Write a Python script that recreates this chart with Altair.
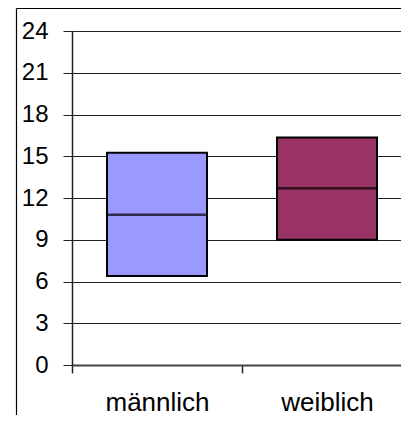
import altair as alt
import pandas as pd

# Data
groups = ["männlich", "weiblich"]
q1 = [6.4, 9.0]
median = [10.8, 12.7]
q3 = [15.25, 16.35]
colors = ["#9999FF", "#993366"]
y_ticks = [0, 3, 6, 9, 12, 15, 18, 21, 24]

df = pd.DataFrame({"g": groups, "q1": q1, "med": median, "q3": q3})

FONT = "Liberation Sans"

x_enc = alt.X(
    "g:N",
    sort=groups,
    title=None,
    scale=alt.Scale(range=[0, 340], paddingInner=0, paddingOuter=0),
    axis=alt.Axis(
        labelAngle=0,
        labelFont=FONT,
        labelFontSize=26,
        labelColor="black",
        labelBaseline="alphabetic",
        labelPadding=37,
        tickBand="extent",
        tickSize=8,
        tickColor="#222",
        tickWidth=1.5,
        domainColor="#444",
        domainWidth=2,
        grid=False,
    ),
)

y_scale = alt.Scale(domain=[0, 24], nice=False)

boxes = (
    alt.Chart(df)
    .mark_bar(size=100, stroke="black", strokeWidth=2)
    .encode(
        x=x_enc,
        y=alt.Y(
            "q1:Q",
            scale=y_scale,
            title=None,
            axis=alt.Axis(
                values=y_ticks,
                labelFont=FONT,
                labelFontSize=24,
                labelColor="black",
                labelPadding=15,
                tickSize=9,
                tickColor="#222",
                domainColor="#222",
                domainWidth=1.5,
                grid=True,
                gridColor="#222",
                gridWidth=1,
            ),
        ),
        y2="q3:Q",
        color=alt.Color("g:N", scale=alt.Scale(domain=groups, range=colors), legend=None),
    )
)

medians = (
    alt.Chart(df)
    .mark_tick(size=100, thickness=2.5, color="black")
    .encode(x=alt.X("g:N", sort=groups), y=alt.Y("med:Q", scale=y_scale))
)

frame_data = alt.Data(values=[{"a": 1}])
frame_left = alt.Chart(frame_data).mark_rule(color="black", strokeWidth=1.2).encode(
    x=alt.value(-55.5), y=alt.value(-22.5), y2=alt.value(420)
)
frame_top = alt.Chart(frame_data).mark_rule(color="black", strokeWidth=1.2).encode(
    x=alt.value(-55.5), x2=alt.value(420), y=alt.value(-22.5)
)

chart = (
    alt.layer(boxes, medians, frame_left, frame_top)
    .properties(
        width=329,
        height=334,
        autosize=alt.AutoSizeParams(type="none"),
        padding={"left": 64, "top": 23, "right": 0, "bottom": 50},
        background="white",
    )
    .configure_view(stroke=None)
)

chart.save("out.html", embed_options={"renderer": "svg", "actions": False})
